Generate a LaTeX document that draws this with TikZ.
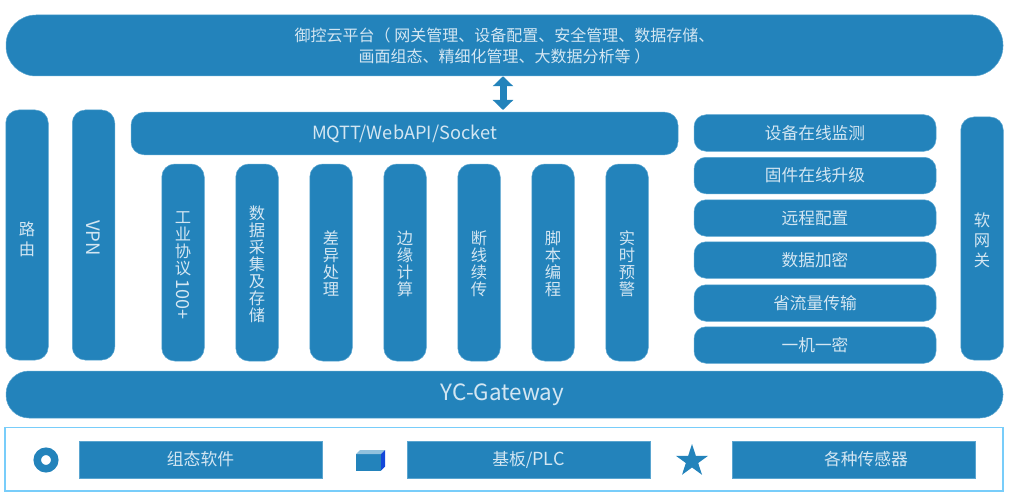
\documentclass[tikz,border=0pt]{standalone}
\usepackage{fontspec}
\setmainfont{Noto Sans CJK SC}
\usetikzlibrary{arrows.meta,shapes.geometric}
\definecolor{bar}{HTML}{2383BB}
\definecolor{edge}{HTML}{5AA5D0}
\definecolor{txt}{HTML}{D3E6F2}
\definecolor{skyline}{RGB}{120,205,250}
\newcommand{\lift}[1]{\rule{0pt}{#1pt}}
\tikzset{
  x=1pt,y=-1pt,
  box/.style={fill=bar,draw=edge,line width=.5pt,text=txt,inner sep=0pt,align=center,font=\fontsize{16.3}{17}\selectfont},
  col/.style={box,minimum width=42.5pt,rounded corners=13pt},
  widecol/.style={col,font=\fontsize{16.3}{20}\selectfont},
  row/.style={box,minimum width=242pt,minimum height=36.5pt,rounded corners=12pt,font=\fontsize{16.7}{17}\selectfont},
  leg/.style={box,minimum width=243pt,minimum height=37pt,rounded corners=0pt,font=\fontsize{16.8}{17}\selectfont},
}
\begin{document}
\begin{tikzpicture}
\useasboundingbox (0,0) rectangle (1011,492);
\node[box,minimum width=997pt,minimum height=61pt,rounded corners=30pt,font=\fontsize{16}{21}\selectfont] (top) at (504.5,45.5) {御控云平台（ 网关管理、设备配置、安全管理、数据存储、\\画面组态、精细化管理、大数据分析等 ）};
\node[widecol,minimum height=250pt] (route) at (27,235) {\lift{22}路\\由};
\node[col,minimum height=250pt] (vpn) at (93.5,235) {\lift{6}\rotatebox{-90}{\fontsize{18.5}{18.5}\selectfont VPN}};
\node[box,minimum width=547pt,minimum height=42.5pt,rounded corners=13pt,font=\fontsize{18.2}{20}\selectfont] (mqtt) at (404.5,133.5) {MQTT/WebAPI/Socket};
\node[col,minimum height=197pt] (c1) at (183,262.5) {\lift{18}工\\业\\协\\议\\[-12pt]\rotatebox{-90}{\fontsize{18}{18}\selectfont 100+}};
\node[col,minimum height=197pt] (c2) at (257,262.5) {\lift{16.3}数\\据\\采\\集\\及\\存\\储};
\node[col,minimum height=197pt] (c3) at (331,262.5) {\lift{16.3}差\\异\\处\\理};
\node[col,minimum height=197pt] (c4) at (405,262.5) {\lift{16.3}边\\缘\\计\\算};
\node[col,minimum height=197pt] (c5) at (479,262.5) {\lift{16.3}断\\线\\续\\传};
\node[col,minimum height=197pt] (c6) at (553,262.5) {\lift{16.3}脚\\本\\编\\程};
\node[col,minimum height=197pt] (c7) at (627,262.5) {\lift{16.3}实\\时\\预\\警};
\node[row] (r1) at (815,133) {设备在线监测};
\node[row] (r2) at (815,175.5) {固件在线升级};
\node[row] (r3) at (815,218) {远程配置};
\node[row] (r4) at (815,260) {数据加密};
\node[row] (r5) at (815,303) {省流量传输};
\node[row] (r6) at (815,345) {一机一密};
\node[widecol,minimum height=243pt] (soft) at (982,238.5) {\lift{16.3}软\\网\\关};
\node[box,minimum width=997pt,minimum height=47pt,rounded corners=23pt,font=\fontsize{22.4}{24}\selectfont] (yc) at (504.5,394.5) {\hspace*{-4pt}YC-Gateway};
\draw[skyline,line width=1.5pt] (5,427.5) rectangle (1003,491);
\node[leg] (l1) at (200.5,459.5) {组态软件};
\node[leg] (l2) at (528.5,459.5) {基板/{\fontsize{18}{17}\selectfont PLC}};
\node[leg] (l3) at (853.5,459.5) {\hspace*{25pt}各种传感器};
\coordinate (ar) at (503,93);
\draw[bar,line width=7pt,shorten >=2pt,{Triangle[width=20pt,length=10pt]}-{Triangle[width=20pt,length=10pt]}] (top.south -| ar) -- (mqtt.north -| ar);
\node[circle,draw=bar,line width=7.5pt,fill=white,minimum size=17.5pt,inner sep=0pt] (ring) at (46,460) {};
\fill[bar] (356,454) rectangle (381,470.5);
\fill[bar!50!white] (356,454) -- (360,450) -- (385,450) -- (381,454) -- cycle;
\fill[blue!45!bar] (381,454) -- (385,450) -- (385,466.5) -- (381,470.5) -- cycle;
\node[star,star points=5,star point ratio=2.618,fill=bar,minimum size=34pt,inner sep=0pt] (st) at (692,461) {};
\end{tikzpicture}
\end{document}
